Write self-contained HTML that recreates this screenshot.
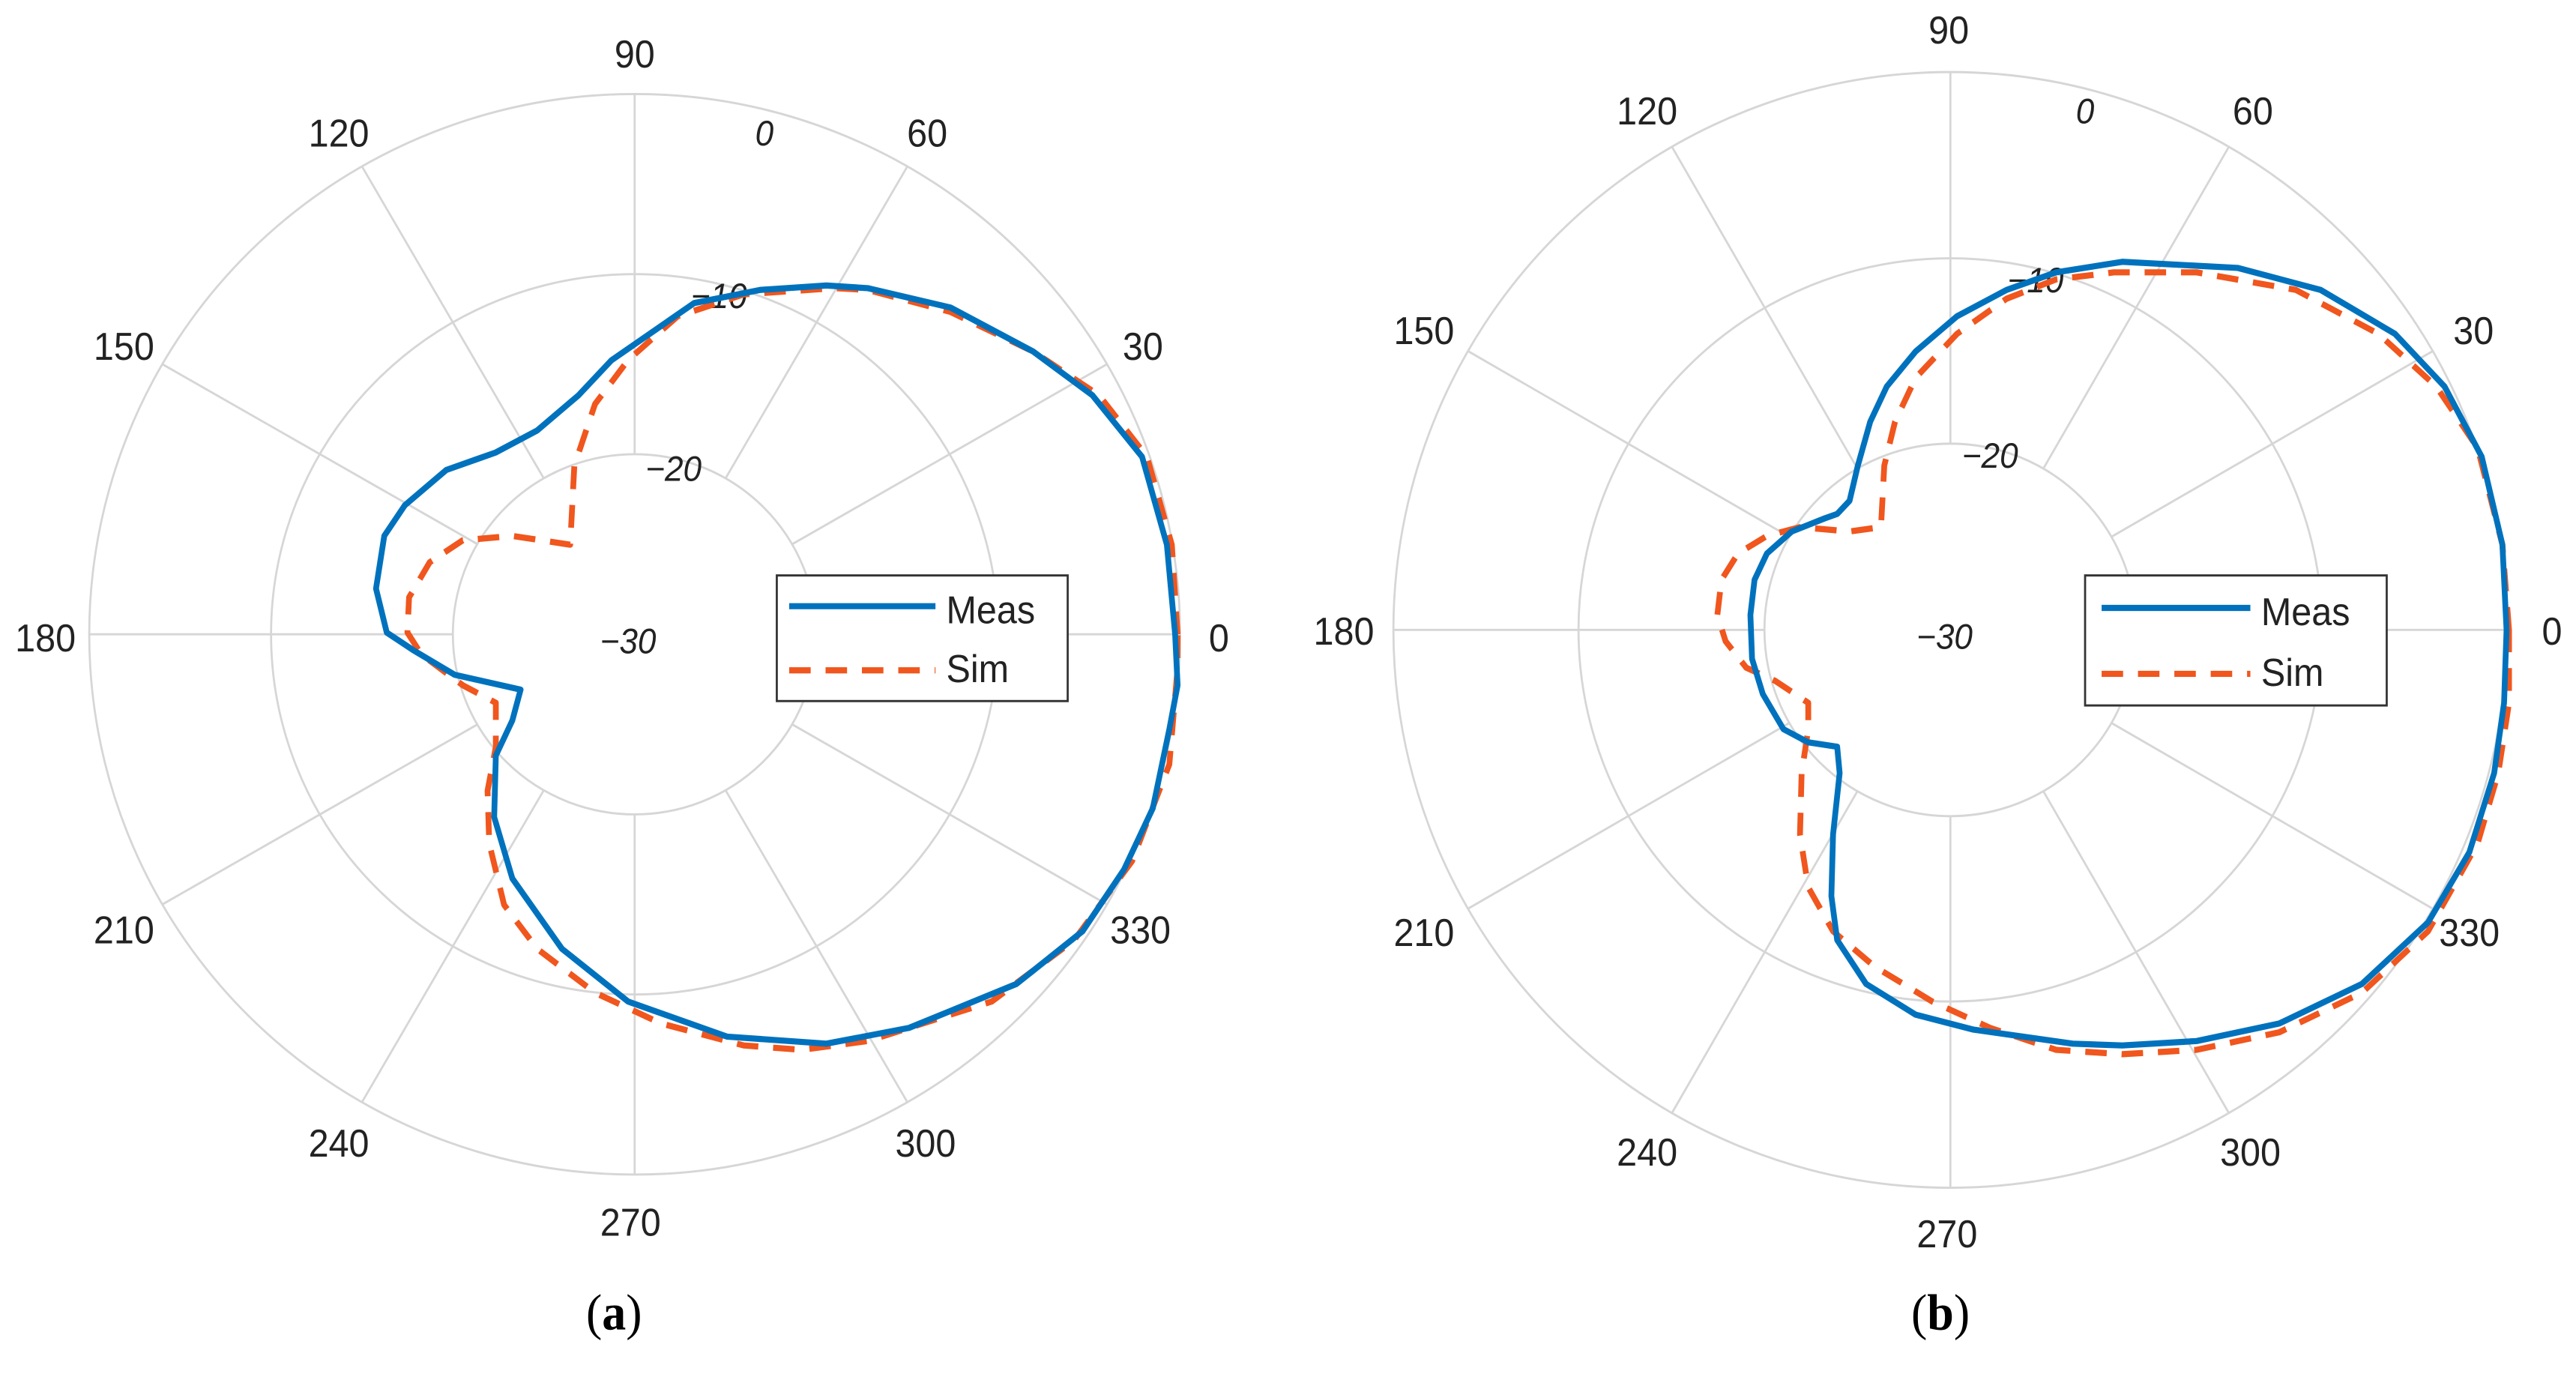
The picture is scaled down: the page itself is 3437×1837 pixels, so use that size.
<!DOCTYPE html>
<html><head><meta charset="utf-8"><style>
html,body{margin:0;padding:0;background:#fff;width:3437px;height:1837px;overflow:hidden}
svg{display:block}
text{font-family:"Liberation Sans",sans-serif;fill:#222}
.lb{font-size:44px;text-anchor:middle;dominant-baseline:middle}
.rl{font-size:40px;font-style:italic;text-anchor:middle;dominant-baseline:middle}
.lg{font-size:44px;dominant-baseline:middle}
.cap{font-family:"Liberation Serif",serif;font-size:58px;text-anchor:middle;dominant-baseline:middle;fill:#000}
.g{stroke:#d6d6d6;stroke-width:2.5;fill:none}
.m{stroke:#0072BD;stroke-width:7;fill:none;stroke-linejoin:round}
.s{stroke:#F0561D;stroke-width:7;fill:none;stroke-dasharray:26 18;stroke-linejoin:round}
</style></head><body>
<svg width="3437" height="1837" viewBox="0 0 3437 1837" xmlns="http://www.w3.org/2000/svg">
<rect width="3437" height="1837" fill="#fff"/>
<!-- Plot a -->
<g transform="scale(1.1026,1.172)">
 <ellipse class="g" cx="768" cy="722" rx="660" ry="615"/>
 <ellipse class="g" cx="768" cy="722" rx="440" ry="410"/>
 <ellipse class="g" cx="768" cy="722" rx="220" ry="205"/>
 <g class="g">
  <line x1="988" y1="722" x2="1428" y2="722"/>
  <line x1="548" y1="722" x2="108" y2="722"/>
  <line x1="768" y1="517" x2="768" y2="107"/>
  <line x1="768" y1="927" x2="768" y2="1337"/>
  <line x1="958.5" y1="619.5" x2="1339.6" y2="414.5"/>
  <line x1="578" y1="619.5" x2="196.4" y2="414.5"/>
  <line x1="578" y1="824.5" x2="196.4" y2="1029.5"/>
  <line x1="958.5" y1="824.5" x2="1339.6" y2="1029.5"/>
  <line x1="878" y1="544.5" x2="1098" y2="189.4"/>
  <line x1="658" y1="544.5" x2="438" y2="189.4"/>
  <line x1="658" y1="899.5" x2="438" y2="1254.6"/>
  <line x1="878" y1="899.5" x2="1098" y2="1254.6"/>
 </g>
 <text class="lb" x="768" y="65">90</text><text class="lb" x="410" y="155">120</text><text class="lb" x="1122" y="155">60</text>
 <text class="lb" x="150" y="398">150</text><text class="lb" x="1383" y="398">30</text>
 <text class="lb" x="55" y="730">180</text><text class="lb" x="1475" y="730">0</text>
 <text class="lb" x="150" y="1062">210</text><text class="lb" x="1380" y="1062">330</text>
 <text class="lb" x="410" y="1305">240</text><text class="lb" x="1120" y="1305">300</text>
 <text class="lb" x="763" y="1395">270</text>
 <text class="rl" x="925" y="155">0</text><text class="rl" x="870" y="340">−10</text><text class="rl" x="815" y="537">−20</text><text class="rl" x="760" y="733">−30</text>
 <polygon class="s" points="1425,722 1418,620 1388,520 1330,450 1250,400 1150,355 1050,330 1010,328 900,335 820,360 760,410 720,460 695,530 690,620 620,610 560,615 520,640 495,680 493,720 510,745 560,780 600,800 600,850 590,900 592,960 610,1030 650,1080 720,1130 800,1165 900,1190 970,1195 1050,1185 1200,1140 1300,1070 1370,980 1415,870 1425,760"/>
 <polygon class="m" points="1422,722 1412,620 1382,520 1322,450 1250,400 1150,350 1050,328 1000,325 920,330 840,345 740,410 700,450 650,490 600,515 540,535 490,575 465,610 455,670 468,720 500,740 550,768 630,785 620,820 600,860 598,930 620,1000 680,1080 760,1140 880,1180 1000,1188 1100,1170 1230,1120 1310,1060 1360,990 1395,920 1415,830 1425,780"/>
 <rect x="940" y="655" width="352" height="143" fill="#fff" stroke="#333" stroke-width="2.5"/>
 <line class="m" x1="955" y1="690" x2="1132" y2="690"/>
 <line class="s" x1="955" y1="763" x2="1132" y2="763"/>
 <text class="lg" x="1145" y="698">Meas</text><text class="lg" x="1145" y="765">Sim</text>
 <text class="cap" x="743" y="1500">(<tspan font-weight="bold">a</tspan>)</text>
</g>
<!-- Plot b -->
<g transform="translate(1718,0) scale(1.1026,1.172)">
 <ellipse class="g" cx="802" cy="717" rx="674" ry="635"/>
 <ellipse class="g" cx="802" cy="717" rx="450" ry="423"/>
 <ellipse class="g" cx="802" cy="717" rx="225" ry="212"/>
 <g class="g">
  <line x1="1027" y1="717" x2="1476" y2="717"/>
  <line x1="577" y1="717" x2="128" y2="717"/>
  <line x1="802" y1="505" x2="802" y2="82"/>
  <line x1="802" y1="929" x2="802" y2="1352"/>
  <line x1="997" y1="611" x2="1386" y2="399.5"/>
  <line x1="607" y1="611" x2="218" y2="399.5"/>
  <line x1="607" y1="823" x2="218" y2="1034.5"/>
  <line x1="997" y1="823" x2="1386" y2="1034.5"/>
  <line x1="914.5" y1="533.4" x2="1139" y2="167"/>
  <line x1="689.5" y1="533.4" x2="465" y2="167"/>
  <line x1="689.5" y1="900.6" x2="465" y2="1267"/>
  <line x1="914.5" y1="900.6" x2="1139" y2="1267"/>
 </g>
 <text class="lb" x="800" y="38">90</text><text class="lb" x="435" y="130">120</text><text class="lb" x="1168" y="130">60</text>
 <text class="lb" x="165" y="380">150</text><text class="lb" x="1435" y="380">30</text>
 <text class="lb" x="68" y="722">180</text><text class="lb" x="1530" y="722">0</text>
 <text class="lb" x="165" y="1065">210</text><text class="lb" x="1430" y="1065">330</text>
 <text class="lb" x="435" y="1315">240</text><text class="lb" x="1165" y="1315">300</text>
 <text class="lb" x="798" y="1408">270</text>
 <text class="rl" x="965" y="130">0</text><text class="rl" x="905" y="322">−10</text><text class="rl" x="850" y="522">−20</text><text class="rl" x="795" y="728">−30</text>
 <polygon class="s" points="1478,717 1470,620 1440,510 1390,440 1320,380 1220,330 1100,310 1000,310 930,318 870,340 810,380 760,430 735,480 722,530 718,600 680,605 620,600 580,610 545,630 525,660 520,700 530,730 555,760 590,775 630,800 630,830 622,880 620,950 630,1010 660,1060 710,1100 780,1140 850,1170 930,1195 1010,1200 1100,1195 1200,1175 1300,1130 1380,1060 1440,960 1465,880 1478,800"/>
 <polygon class="m" points="1475,717 1470,620 1445,520 1400,440 1340,380 1250,330 1150,305 1010,298 930,310 870,330 810,360 760,400 725,440 705,480 690,530 680,570 665,585 650,590 610,605 580,630 565,660 560,700 562,750 575,790 600,830 630,845 665,850 668,880 660,950 658,1020 665,1070 700,1120 760,1155 830,1172 950,1188 1010,1190 1100,1185 1200,1165 1300,1120 1380,1050 1430,970 1460,880 1472,800"/>
 <rect x="965" y="655" width="365" height="148" fill="#fff" stroke="#333" stroke-width="2.5"/>
 <line class="m" x1="985" y1="692" x2="1165" y2="692"/>
 <line class="s" x1="985" y1="767" x2="1165" y2="767"/>
 <text class="lg" x="1178" y="700">Meas</text><text class="lg" x="1178" y="769">Sim</text>
 <text class="cap" x="790" y="1500">(<tspan font-weight="bold">b</tspan>)</text>
</g>
</svg>
</body></html>
